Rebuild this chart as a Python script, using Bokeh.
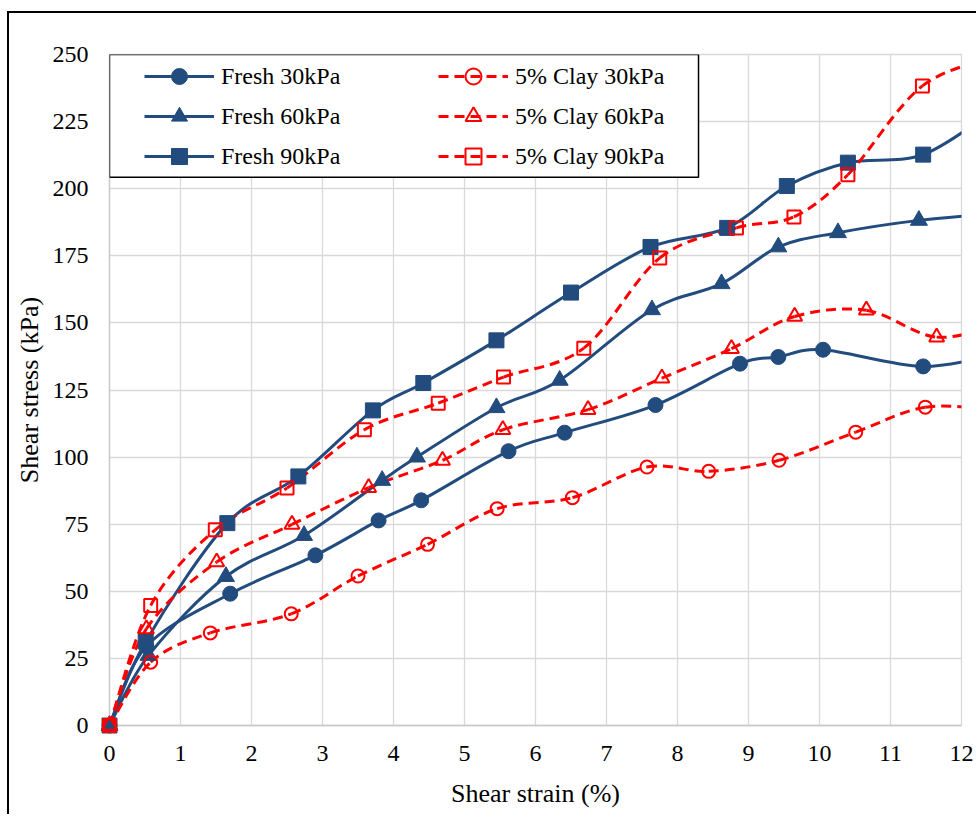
from bokeh.plotting import figure
from bokeh.models import (Range1d, FixedTicker, Legend, LegendItem, BoxAnnotation,
                          ColumnDataSource)
from bokeh.embed import file_html
from bokeh.resources import INLINE

# ---------------- data ----------------
# strain (%) / stress (kPa); the last point of each series lies past the 12 % axis end
f30_x = [0, 0.52, 1.70, 2.90, 3.79, 4.39, 5.62, 6.41, 7.69, 8.88, 9.42, 10.05, 11.46, 12.6]
f30_y = [0, 29.5, 49.1, 63.4, 76.4, 83.9, 102.2, 109.1, 119.4, 134.8, 137.3, 140.0, 133.8, 139.0]

f60_x = [0, 0.55, 1.64, 2.74, 3.84, 4.33, 5.45, 6.34, 7.64, 8.62, 9.42, 10.26, 11.40, 12.6]
f60_y = [0, 26.1, 55.5, 70.8, 91.3, 100.0, 118.4, 128.6, 154.9, 164.6, 178.3, 183.6, 188.2, 191.0]

f90_x = [0, 0.51, 1.66, 2.66, 3.71, 4.42, 5.45, 6.50, 7.62, 8.70, 9.54, 10.40, 11.46, 12.5]
f90_y = [0, 31.3, 75.4, 92.8, 117.4, 127.6, 143.5, 161.3, 178.3, 185.4, 201.0, 209.7, 212.7, 230.0]

c30_x = [0, 0.58, 1.42, 2.56, 3.50, 4.48, 5.46, 6.52, 7.57, 8.44, 9.43, 10.51, 11.49, 12.5]
c30_y = [0, 23.6, 34.5, 41.6, 55.7, 67.5, 80.8, 84.9, 96.3, 94.7, 98.8, 109.3, 118.6, 117.5]

c60_x = [0, 0.52, 1.51, 2.57, 3.65, 4.69, 5.54, 6.74, 7.78, 8.76, 9.65, 10.66, 11.65, 12.6]
c60_y = [0, 36.0, 60.9, 74.9, 88.6, 98.8, 110.2, 117.7, 129.4, 140.4, 152.4, 154.7, 144.7, 150.0]

c90_x = [0, 0.58, 1.49, 2.50, 3.59, 4.63, 5.55, 6.68, 7.75, 8.83, 9.64, 10.40, 11.45, 12.6]
c90_y = [0, 44.7, 72.9, 88.5, 110.2, 120.1, 129.8, 140.6, 174.2, 185.4, 189.5, 205.2, 238.3, 250.0]

series_names = ["Fresh 30kPa", "Fresh 60kPa", "Fresh 90kPa",
                "5% Clay 30kPa", "5% Clay 60kPa", "5% Clay 90kPa"]

x_ticks = list(range(0, 13))
y_ticks = list(range(0, 251, 25))

# ---------------- styling ----------------
BLUE = "#224B7E"
RED = "#FF0000"
FONT = "Liberation Serif"
GRID = "#d9d9d9"

p = figure(width=969, height=803, output_backend="svg", toolbar_location=None,
           x_range=Range1d(0, 12), y_range=Range1d(0, 250),
           min_border_left=100, min_border_right=17, min_border_top=41, min_border_bottom=91)
p.styles = {"margin-left": "7px", "margin-top": "11px",
            "border-left": "2px solid #000000", "border-top": "2px solid #000000"}

p.background_fill_color = "white"
p.border_fill_color = "white"
p.outline_line_color = GRID
p.outline_line_width = 1.3

for ax, tk in ((p.xaxis[0], x_ticks), (p.yaxis[0], y_ticks)):
    ax.ticker = FixedTicker(ticks=tk)
    ax.major_tick_line_color = None
    ax.minor_tick_line_color = None
    ax.major_tick_out = 0
    ax.major_tick_in = 0
    ax.axis_line_color = "#c8c8c8"
    ax.axis_line_width = 1.3
    ax.major_label_text_font = FONT
    ax.major_label_text_font_size = "24px"
    ax.major_label_text_color = "black"
    ax.axis_label_text_font = FONT
    ax.axis_label_text_font_size = "26px"
    ax.axis_label_text_font_style = "normal"
    ax.axis_label_text_color = "black"

p.xaxis.axis_label = "Shear strain (%)"
p.yaxis.axis_label = "Shear stress (kPa)"
p.xaxis.major_label_standoff = 20
p.yaxis.major_label_standoff = 21
p.xaxis.axis_label_standoff = 15
p.yaxis.axis_label_standoff = 6

p.xgrid.ticker = FixedTicker(ticks=x_ticks)
p.ygrid.ticker = FixedTicker(ticks=y_ticks)
p.grid.grid_line_color = GRID
p.grid.grid_line_width = 1.3


def smooth_segments(xs, ys):
    """Bezier control points of a smoothed line through the data points."""
    n = len(xs)
    d = dict(x0=[], y0=[], x1=[], y1=[], cx0=[], cy0=[], cx1=[], cy1=[])
    for i in range(n - 1):
        xp, yp = (xs[i - 1], ys[i - 1]) if i > 0 else (xs[i], ys[i])
        xn, yn = (xs[i + 2], ys[i + 2]) if i + 2 < n else (xs[i + 1], ys[i + 1])
        d["x0"].append(xs[i]); d["y0"].append(ys[i])
        d["x1"].append(xs[i + 1]); d["y1"].append(ys[i + 1])
        d["cx0"].append(xs[i] + (xs[i + 1] - xp) / 6.0)
        d["cy0"].append(ys[i] + (ys[i + 1] - yp) / 6.0)
        d["cx1"].append(xs[i + 1] - (xn - xs[i]) / 6.0)
        d["cy1"].append(ys[i + 1] - (yn - ys[i]) / 6.0)
    return ColumnDataSource(d)


specs = [
    (f30_x, f30_y, BLUE, "solid", "circle", 15, True),
    (f60_x, f60_y, BLUE, "solid", "triangle", 17, True),
    (f90_x, f90_y, BLUE, "solid", "square", 15, True),
    (c30_x, c30_y, RED, "10 6", "circle", 13, False),
    (c60_x, c60_y, RED, "10 6", "triangle", 15, False),
    (c90_x, c90_y, RED, "10 6", "square", 13, False),
]

line_rs, mark_rs = [], []
for xs, ys, col, dash, mk, sz, filled in specs:
    lr = p.bezier(x0="x0", y0="y0", x1="x1", y1="y1", cx0="cx0", cy0="cy0",
                  cx1="cx1", cy1="cy1", source=smooth_segments(xs, ys),
                  line_color=col, line_width=3, line_dash=dash)
    line_rs.append(lr)

for xs, ys, col, dash, mk, sz, filled in specs:
    vx = [a for a in xs if a <= 12]
    vy = ys[:len(vx)]
    if filled:
        mr = p.scatter(vx, vy, marker=mk, size=sz, fill_color=col, line_color=col,
                       line_width=1, level="overlay")
    else:
        mr = p.scatter(vx, vy, marker=mk, size=sz, fill_color=None, line_color=col,
                       line_width=2, level="overlay")
    mark_rs.append(mr)

# legend box
box = BoxAnnotation(left=0, right=8.296, top=250, bottom=204.3,
                    fill_color="white", fill_alpha=1.0,
                    line_color="black", line_alpha=1.0, line_width=1.5)
p.add_layout(box)

for k, xoff in ((0, 35), (3, 329)):
    items = [LegendItem(label=series_names[k + j], renderers=[line_rs[k + j], mark_rs[k + j]])
             for j in range(3)]
    lg = Legend(items=items, location=(xoff, 549), orientation="vertical",
                glyph_width=70, glyph_height=40, label_height=40, label_standoff=7,
                padding=0, spacing=0, margin=0,
                border_line_color=None, background_fill_alpha=0.0,
                label_text_font=FONT, label_text_font_size="24px", label_text_color="black")
    p.add_layout(lg)

open("out.html", "w").write(file_html(p, INLINE))
